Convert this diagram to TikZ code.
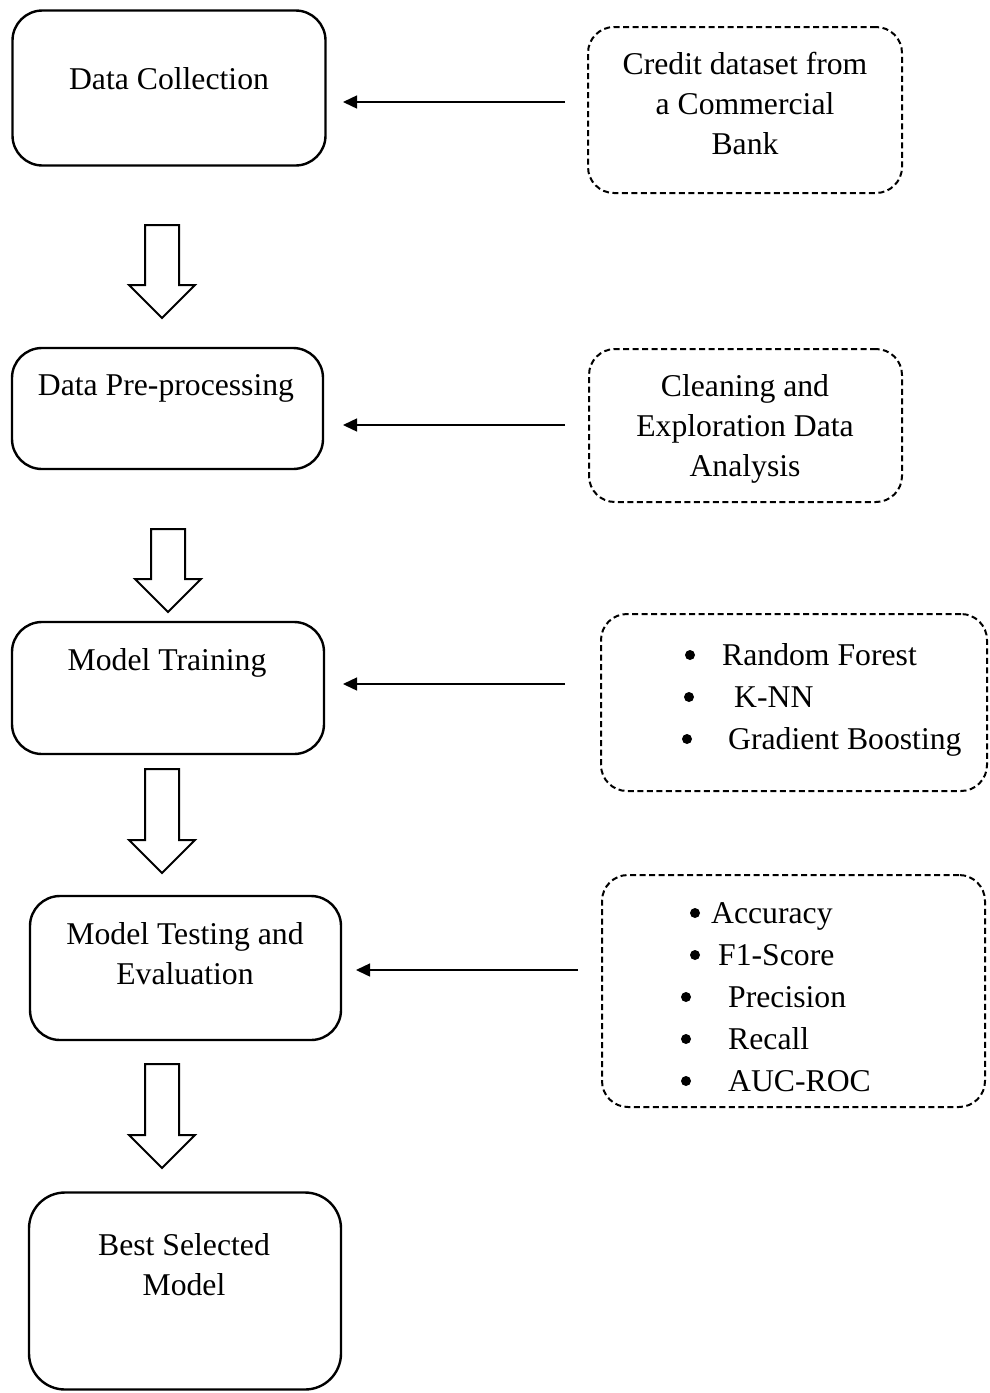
\documentclass[tikz,border=0pt]{standalone}
\usepackage{fontspec}
\setmainfont{Liberation Serif}
\usepackage{tikz}
\usetikzlibrary{%
  arrows.meta,% wg. Triangle
  positioning,%
  calc%
}

\tikzset{
  txt/.style={font=\fontsize{31.7}{40}\selectfont, inner sep=0pt, align=center},
  stage/.style={draw, line width=2.4pt, rounded corners=30pt, inner sep=0pt},
  source/.style={draw, line width=2pt, dash pattern=on 6pt off 3.5pt, rounded corners=26pt, inner sep=0pt},
  feed/.style={line width=1.4pt, -{Triangle[length=14pt,width=13pt]}},
  blockarrow/.style={draw, line width=2pt, line join=miter},
  dot/.style={circle, fill, inner sep=0pt, minimum size=10pt}
}

\begin{document}
\begin{tikzpicture}[x=1pt,y=-1pt]
\useasboundingbox (0,0) rectangle (989,1393);

% steps on the left
\node[stage, minimum width=313, minimum height=155] (collect) at (169,88) {};
\node[stage, minimum width=311, minimum height=121] (prep) at (167.5,408.5) {};
\node[stage, minimum width=312, minimum height=132] (train) at (168,688) {};
\node[stage, minimum width=311, minimum height=144] (test) at (185.5,968) {};
\node[stage, minimum width=312, minimum height=197, rounded corners=36pt] (best) at (185,1291) {};

\node[txt, anchor=base] (collecttxt) at (169,89) {Data Collection};
\node[txt, anchor=base] (preptxt) at (166,395) {Data Pre-processing};
\node[txt, anchor=base] (traintxt) at (167,670) {Model Training};
\node[txt] (testtxt) at (185,953.5) {Model Testing and\\Evaluation};
\node[txt] (besttxt) at (184,1265) {Best Selected\\Model};

% inputs on the right
\node[source, minimum width=314, minimum height=166] (credit) at (745,110) {};
\node[source, minimum width=313, minimum height=153] (clean) at (745.5,425.5) {};
\node[source, minimum width=386, minimum height=177] (algos) at (794,702.5) {};
\node[source, minimum width=383, minimum height=232] (metrics) at (793.5,991) {};

\node[txt] (credittxt) at (745,103) {Credit dataset from\\a Commercial\\Bank};
\node[txt] (cleantxt) at (745,429) {Cleaning and\\Exploration Data\\Analysis};

\foreach \bx/\tx/\yy/\name [count=\i] in {690/722/655/Random Forest, 689/734/697/K-NN, 687/728/739/Gradient Boosting}{
  \node[dot] (algodot\i) at (\bx,\yy) {};
  \node[txt, anchor=base west] (algo\i) at (\tx,{\yy+10.5}) {\name};
}
\foreach \bx/\tx/\yy/\name [count=\i] in {695/711/913/Accuracy, 695/718/955/F1-Score, 686/728/997/Precision, 686/728/1039/Recall, 686/728/1081/AUC-ROC}{
  \node[dot] (metricdot\i) at (\bx,\yy) {};
  \node[txt, anchor=base west] (metric\i) at (\tx,{\yy+10.5}) {\name};
}

% thin arrows
\coordinate (f1s) at (565,102);  \coordinate (f1e) at (343,102);
\coordinate (f2s) at (565,425);  \coordinate (f2e) at (343,425);
\coordinate (f3s) at (565,684);  \coordinate (f3e) at (343,684);
\coordinate (f4s) at (578,970);  \coordinate (f4e) at (356,970);
\draw[feed] (f1s) -- (f1e);
\draw[feed] (f2s) -- (f2e);
\draw[feed] (f3s) -- (f3e);
\draw[feed] (f4s) -- (f4e);

% block arrows
\foreach \cx/\ytop/\yhead/\ytip in {162/225/285/318, 168/529/579/612, 162/769/840/873, 162/1064/1135/1168}{
  \draw[blockarrow] ({\cx-17},\ytop) -- ({\cx+17},\ytop) -- ({\cx+17},\yhead) -- ({\cx+33},\yhead)
    -- (\cx,\ytip) -- ({\cx-33},\yhead) -- ({\cx-17},\yhead) -- cycle;
}
\end{tikzpicture}
\end{document}
